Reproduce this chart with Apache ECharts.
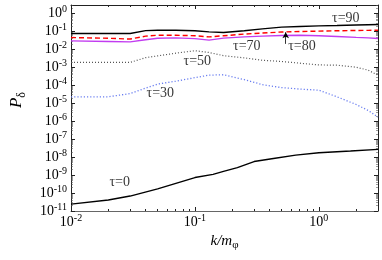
<!DOCTYPE html>
<html><head><meta charset="utf-8">
<script src="https://cdn.jsdelivr.net/npm/echarts@6/dist/echarts.min.js"></script>
<style>html,body{margin:0;padding:0;background:#fff}#c{width:382px;height:260px}</style>
</head><body><div id="c"></div>
<script>
// k grid shared by the upper curves
const kGrid = [0.01,0.02,0.03,0.04,0.05,0.07,0.1,0.13,0.17,0.25,0.35,0.5,0.7,1.0,1.4,2.0,2.5,3.0];
const p90 = [0.077,0.077,0.078,0.112,0.118,0.118,0.11,0.095,0.088,0.11,0.14,0.175,0.19,0.205,0.215,0.232,0.24,0.245];
const p80 = [0.046,0.042,0.038,0.055,0.062,0.062,0.058,0.05,0.058,0.072,0.082,0.094,0.1,0.105,0.11,0.114,0.116,0.118];
const p70 = [0.030,0.028,0.0265,0.035,0.042,0.044,0.040,0.033,0.043,0.050,0.055,0.060,0.062,0.058,0.053,0.047,0.044,0.041];
const p50 = [1.9e-3,1.9e-3,1.9e-3,3.5e-3,4.4e-3,6.2e-3,8.5e-3,6.8e-3,4.5e-3,3.4e-3,2.5e-3,2.14e-3,1.72e-3,1.38e-3,1.33e-3,1.03e-3,7e-4,3.7e-4];
const p30 = [2.3e-5,2.3e-5,3.5e-5,7.0e-5,1.17e-4,1.7e-4,2.7e-4,3.7e-4,3.9e-4,2.1e-4,1.1e-4,7.5e-5,6.2e-5,5.4e-5,2.3e-5,8.6e-6,4e-6,1.7e-6];
// tau = 0 curve
const k0 = [0.01,0.02,0.03,0.05,0.1,0.14,0.17,0.22,0.3,0.43,0.65,1.0,1.8,3.0];
const p0 = [2.4e-11,4.1e-11,6.8e-11,1.7e-10,7.3e-10,1.1e-9,1.6e-9,2.6e-9,5.7e-9,8.4e-9,1.3e-8,1.75e-8,2.2e-8,2.7e-8];
// annotations
const labelText = ['τ=90','τ=80','τ=70','τ=50','τ=30','τ=0'];
const labelK = [1.65,0.73,0.262,0.1045,0.0526,0.0247];
const labelP = [0.55,0.0152,0.0152,2.2e-3,3.7e-5,4.1e-10];
const arrowK = 0.54, arrowFromP = 0.0205, arrowToP = 0.09;
// axis ranges
const xMin = 0.01, xMax = 3, yMin = 1e-11, yMax = 3;

const serif = 'Liberation Serif';
const pairs = (ks, ps) => ks.map((k, i) => [k, ps[i]]);
const minorVals = (lo, hi) => { const out = []; for (let d = Math.floor(Math.log10(lo)); d <= Math.ceil(Math.log10(hi)); d++) for (let m = 2; m <= 9; m++) { const v = +(m * Math.pow(10, d)).toPrecision(3); if (v >= lo && v <= hi) out.push(v); } return out; };
const fmt = v => { const e = Math.log10(v); const r = Math.round(e); if (Math.abs(e - r) > 1e-6) return ''; return '{b|10}{s|' + r + '}'; };
const rich = { b: { fontFamily: serif, fontSize: 14, color: '#000' }, s: { fontFamily: serif, fontSize: 10, color: '#000', padding: [0, 0, 8, 0] } };
const axColor = '#222';

function xAx(pos, main, minor) {
  return { type: 'log', logBase: 10, min: xMin, max: xMax, interval: 1, position: pos,
    axisLine: { show: main, lineStyle: { color: pos === 'bottom' ? '#666' : axColor, width: 1 } },
    axisTick: minor ? { show: true, inside: true, length: 2, customValues: minorVals(xMin, xMax), lineStyle: { color: axColor } } : { show: true, inside: true, length: 4, lineStyle: { color: axColor } },
    axisLabel: { show: main && pos === 'bottom', formatter: fmt, rich: rich, margin: 2 },
    splitLine: { show: false }, minorTick: { show: false },
    name: main && pos === 'bottom' ? '{i|k/m}{u|φ}' : '', nameLocation: 'middle', nameGap: 14,
    nameTextStyle: { rich: { i: { fontFamily: serif, fontStyle: 'italic', fontSize: 15, color: '#000', padding: [0, 0, 8, 0] }, u: { fontFamily: serif, fontSize: 11, color: '#000' } } } };
}
function yAx(pos, main, minor) {
  return { type: 'log', logBase: 10, min: yMin, max: yMax, interval: 1, position: pos,
    axisLine: { show: main, lineStyle: { color: axColor, width: 1 } },
    axisTick: minor ? { show: true, inside: true, length: 2, customValues: minorVals(yMin, yMax), lineStyle: { color: '#555', width: 0.6 } } : { show: true, inside: true, length: 4, lineStyle: { color: axColor } },
    axisLabel: { show: main && pos === 'left', formatter: fmt, rich: rich, margin: 4 },
    splitLine: { show: false }, minorTick: { show: false },
    name: main && pos === 'left' ? '{i|P}{u|δ}' : '', nameLocation: 'middle', nameGap: 36,
    nameTextStyle: { padding: [0, 0, 0, 16], rich: { i: { fontFamily: serif, fontStyle: 'italic', fontSize: 17, color: '#000', padding: [0, 0, 10, 0] }, u: { fontFamily: serif, fontSize: 12, color: '#000' } } } };
}
const mkLine = (name, ks, ps, color, type, width, z) => ({ name, type: 'line', data: pairs(ks, ps), showSymbol: false, symbol: 'none', smooth: false, z: z || 2,
  lineStyle: { color, type, width }, animation: false });

const series = [
  mkLine('t0', k0, p0, '#000', 'solid', 1.4),
  mkLine('t30', kGrid, p30, '#6a7ef0', [1.2, 2], 1.3),
  mkLine('t50', kGrid, p50, '#555', [1, 2], 1.2),
  mkLine('t70', kGrid, p70, '#c23cf0', 'solid', 1.4),
  mkLine('t80', kGrid, p80, '#ff0000', [5, 3], 1.4, 3),
  mkLine('t90', kGrid, p90, '#000', 'solid', 1.4),
  { name: 'labels', type: 'scatter', data: labelK.map((k, i) => ({ value: [k, labelP[i]], label: { formatter: labelText[i] } })), symbolSize: 0, animation: false, silent: true,
    label: { show: true, position: 'inside', fontFamily: serif, fontSize: 14, color: '#000' },
    markLine: { silent: true, symbol: ['none', 'arrow'], symbolSize: [5, 6], animation: false, label: { show: false },
      lineStyle: { color: '#000', width: 0.8, type: 'solid' },
      data: [[{ coord: [arrowK, arrowFromP] }, { coord: [arrowK, arrowToP] }]] } }
];

const chart = echarts.init(document.getElementById('c'), null, { renderer: 'canvas' });
chart.setOption({
  animation: false,
  backgroundColor: '#fff',
  grid: { left: 62, right: 4, top: 5, bottom: 49, containLabel: false },
  xAxis: [xAx('bottom', true, false), xAx('top', true, false), xAx('bottom', false, true), xAx('top', false, true)],
  yAxis: [yAx('left', true, false), yAx('right', true, false), yAx('left', false, true), yAx('right', false, true)],
  series: series
});
</script></body></html>
